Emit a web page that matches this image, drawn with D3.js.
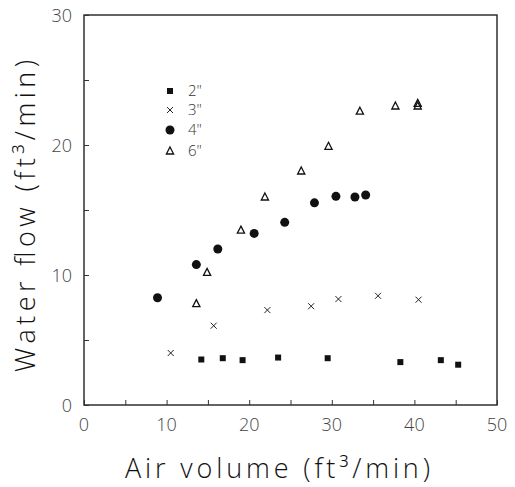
<!DOCTYPE html>
<html>
<head>
<meta charset="utf-8">
<script src="https://cdn.jsdelivr.net/npm/d3@7"></script>
<style>
  body { margin: 0; background: #fff; }
  svg text { font-family: "Open Sans", "DejaVu Sans", sans-serif; fill: #222; }
  .light { font-weight: 300; }
</style>
</head>
<body>
<svg id="chart" width="515" height="487"></svg>
<script>
// series: air volume (x) and water flow (y)
const air2 = [14.2, 16.8, 19.2, 23.5, 29.5, 38.3, 43.2, 45.3];
const water2 = [3.5, 3.6, 3.45, 3.65, 3.6, 3.3, 3.45, 3.1];

const air3 = [10.5, 15.7, 22.2, 27.5, 30.8, 35.6, 40.5];
const water3 = [4.0, 6.1, 7.3, 7.6, 8.15, 8.4, 8.1];

const air4 = [8.9, 13.6, 16.2, 20.6, 24.3, 27.9, 30.5, 32.8, 34.1];
const water4 = [8.25, 10.8, 12.0, 13.2, 14.05, 15.55, 16.05, 16.0, 16.15];

const air6 = [13.6, 14.9, 19.0, 21.9, 26.3, 29.6, 33.4, 37.7, 40.4, 40.4];
const water6 = [7.8, 10.2, 13.45, 16.0, 18.0, 19.9, 22.6, 23.0, 23.2, 23.0];

const xTicks = [0, 10, 20, 30, 40, 50];
const yTicks = [0, 10, 20, 30];
const minorTicks = [5, 15, 25, 35, 45];
const seriesNames = ['2"', '3"', '4"', '6"'];

const svg = d3.select("#chart");
const plotLeft = 84, plotRight = 497, plotTop = 15, plotBottom = 405;

const x = d3.scaleLinear().domain([0, 50]).range([plotLeft, plotRight]);
const y = d3.scaleLinear().domain([0, 30]).range([plotBottom, plotTop]);

// frame
svg.append("rect")
    .attr("x", plotLeft).attr("y", plotTop)
    .attr("width", plotRight - plotLeft).attr("height", plotBottom - plotTop)
    .attr("fill", "none").attr("stroke", "#222").attr("stroke-width", 1.4);

// inward ticks
const xAxis = d3.axisBottom(x).tickValues(xTicks.concat(minorTicks)).tickSize(-5).tickFormat("");
svg.append("g").attr("transform", `translate(0,${plotBottom})`).call(xAxis)
    .call(g => g.select(".domain").remove())
    .selectAll("line").attr("stroke", "#333");

const yAxis = d3.axisLeft(y).tickValues(yTicks.concat([5, 15, 25])).tickSize(-5).tickFormat("");
svg.append("g").attr("transform", `translate(${plotLeft},0)`).call(yAxis)
    .call(g => g.select(".domain").remove())
    .selectAll("line").attr("stroke", "#333");

// tick labels
svg.append("g").selectAll("text").data(xTicks).join("text")
    .attr("class", "light")
    .attr("x", d => x(d)).attr("y", 431)
    .attr("text-anchor", "middle")
    .style("font-size", "18px").style("fill", "#444")
    .text(d => d);

svg.append("g").selectAll("text").data(yTicks).join("text")
    .attr("class", "light")
    .attr("x", 72).attr("y", d => y(d) + 7)
    .attr("text-anchor", "end")
    .style("font-size", "18px").style("fill", "#444")
    .text(d => d);

// axis titles
svg.append("text")
    .attr("class", "light")
    .attr("x", 125).attr("y", 478)
    .attr("textLength", 305).attr("lengthAdjust", "spacing")
    .style("font-size", "27px").style("fill", "#111")
    .text("Air volume (ft\u00b3/min)");

svg.append("text")
    .attr("class", "light")
    .attr("transform", "translate(35,372) rotate(-90)")
    .attr("textLength", 312).attr("lengthAdjust", "spacing")
    .style("font-size", "27px").style("fill", "#111")
    .text("Water flow (ft\u00b3/min)");

// marker drawers
const marks = [
  (g, cx, cy) => g.append("rect").attr("x", cx - 3).attr("y", cy - 3).attr("width", 6).attr("height", 6).attr("fill", "#111"),
  (g, cx, cy) => g.append("path").attr("d", `M${cx - 3},${cy - 3}L${cx + 3},${cy + 3}M${cx - 3},${cy + 3}L${cx + 3},${cy - 3}`)
      .attr("stroke", "#222").attr("stroke-width", 1).attr("fill", "none"),
  (g, cx, cy) => g.append("circle").attr("cx", cx).attr("cy", cy).attr("r", 4.5).attr("fill", "#111"),
  (g, cx, cy) => g.append("path").attr("d", `M${cx},${cy - 4}L${cx + 3.6},${cy + 3}L${cx - 3.6},${cy + 3}Z`)
      .attr("stroke", "#111").attr("stroke-width", 1.3).attr("fill", "none")
];

const series = [[air2, water2], [air3, water3], [air4, water4], [air6, water6]];
const pts = svg.append("g");
series.forEach(([xs, ys], i) => {
  xs.forEach((v, j) => marks[i](pts, x(v), y(ys[j])));
});

// legend
const legendY = [91, 110, 130, 151];
const lg = svg.append("g");
seriesNames.forEach((name, i) => {
  marks[i](lg, 170, legendY[i]);
  lg.append("text").attr("class", "light").attr("x", 188).attr("y", legendY[i] + 5)
    .style("font-size", "15px").style("fill", "#333")
    .text(name);
});
</script>
</body>
</html>
